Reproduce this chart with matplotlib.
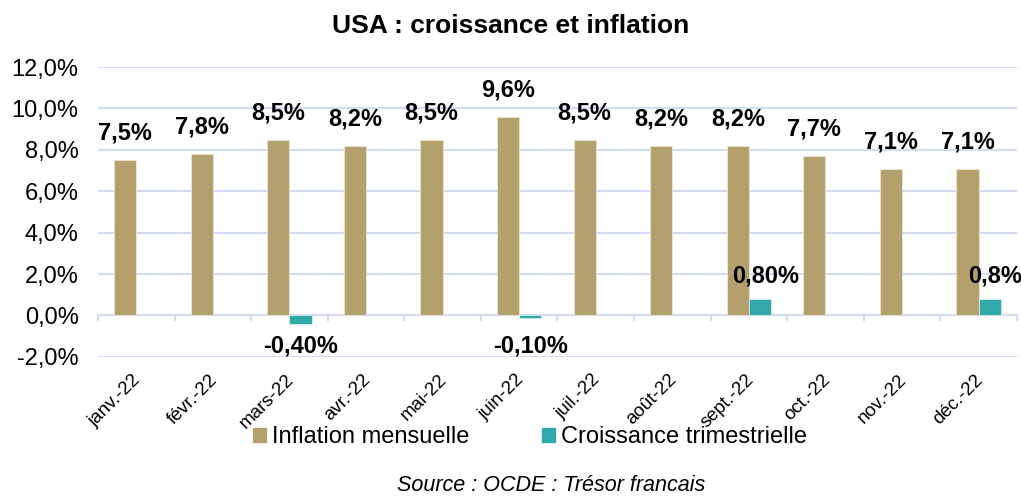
import numpy as np
import matplotlib.pyplot as plt
import matplotlib.transforms as mtransforms
from matplotlib.patches import Patch

plt.rcParams['font.family'] = ['Liberation Sans', 'DejaVu Sans']

mois = ["janv.-22", "févr.-22", "mars-22", "avr.-22", "mai-22", "juin-22",
        "juil.-22", "août-22", "sept.-22", "oct.-22", "nov.-22", "déc.-22"]
inflation = [7.5, 7.8, 8.5, 8.2, 8.5, 9.6, 8.5, 8.2, 8.2, 7.7, 7.1, 7.1]
croissance = [np.nan, np.nan, -0.4, np.nan, np.nan, -0.1,
              np.nan, np.nan, 0.8, np.nan, np.nan, 0.8]
labels_croissance = ["", "", "-0,40%", "", "", "-0,10%", "", "", "0,80%", "", "", "0,8%"]

c_infl = '#B4A06C'
c_croi = '#31A9AB'
c_grid = '#D3DCF0'

fig = plt.figure(figsize=(10.21, 4.97), dpi=100)
ax = fig.add_axes([0.096, 0.282, 0.9, 0.583])

x = np.arange(len(mois))
w = 0.29
ax.bar(x - w/2, inflation, w, color=c_infl, edgecolor='#EDE6D4', linewidth=0.6, zorder=3)
ax.bar(x + w/2, croissance, w, color=c_croi, edgecolor='#D6EEEF', linewidth=0.6, zorder=3)

# étiquettes
for i, v in enumerate(inflation):
    ax.annotate(f"{v:.1f}%".replace('.', ','), (x[i] - w/2, v), xytext=(0, 11),
                textcoords='offset points', ha='center', va='bottom',
                fontsize=17, fontweight='bold')
for i, v in enumerate(croissance):
    if np.isnan(v):
        continue
    if v > 0:
        ax.annotate(labels_croissance[i], (x[i] + w/2, v), xytext=(4, 8),
                    textcoords='offset points', ha='center', va='bottom',
                    fontsize=17, fontweight='bold')
    else:
        ax.annotate(labels_croissance[i], (x[i] + w/2, 0), xytext=(0, -14),
                    textcoords='offset points', ha='center', va='top',
                    fontsize=17, fontweight='bold')

ax.set_xlim(-0.5, len(mois) - 0.5)
ax.set_ylim(-2, 12)
ax.set_yticks(np.arange(-2, 13, 2))
ax.set_yticklabels([f"{t:.1f}%".replace('.', ',') for t in np.arange(-2, 13, 2)], fontsize=17)
ax.tick_params(axis='y', length=0, pad=14)
ax.yaxis.grid(True, color=c_grid, linewidth=1.5, zorder=0)
ax.set_axisbelow(True)

for s in ['top', 'right', 'left']:
    ax.spines[s].set_visible(False)
ax.spines['bottom'].set_position(('data', 0))
ax.spines['bottom'].set_color(c_grid)
ax.spines['bottom'].set_linewidth(1.5)

ax.set_xticks(x)
ax.set_xticklabels(mois, rotation=45, ha='right', rotation_mode='anchor', fontsize=13.5)
ax.tick_params(axis='x', which='major', length=0, pad=40)
shift = mtransforms.ScaledTranslation(-4/100, 0, fig.dpi_scale_trans)
for lab in ax.get_xticklabels():
    lab.set_transform(lab.get_transform() + shift)
ax.set_xticks(np.arange(-0.5, len(mois)), minor=True)
ax.tick_params(axis='x', which='minor', length=4, width=1.5, color=c_grid, direction='out')

handles = [Patch(color=c_infl, label='Inflation mensuelle'),
           Patch(color=c_croi, label='Croissance trimestrielle')]
fig.legend(handles=handles, loc='center', bbox_to_anchor=(0.519, 0.12), ncol=2,
           frameon=False, fontsize=17, handlelength=0.55, handleheight=0.55,
           handletextpad=0.25, columnspacing=3.1)

fig.text(0.5, 0.948, "USA : croissance et inflation", ha='center', va='center',
         fontsize=19, fontweight='bold')
fig.text(0.54, 0.024, "Source : OCDE : Trésor francais", ha='center', va='center',
         fontsize=15.5, style='italic')

fig.savefig('out.png', dpi=100)
